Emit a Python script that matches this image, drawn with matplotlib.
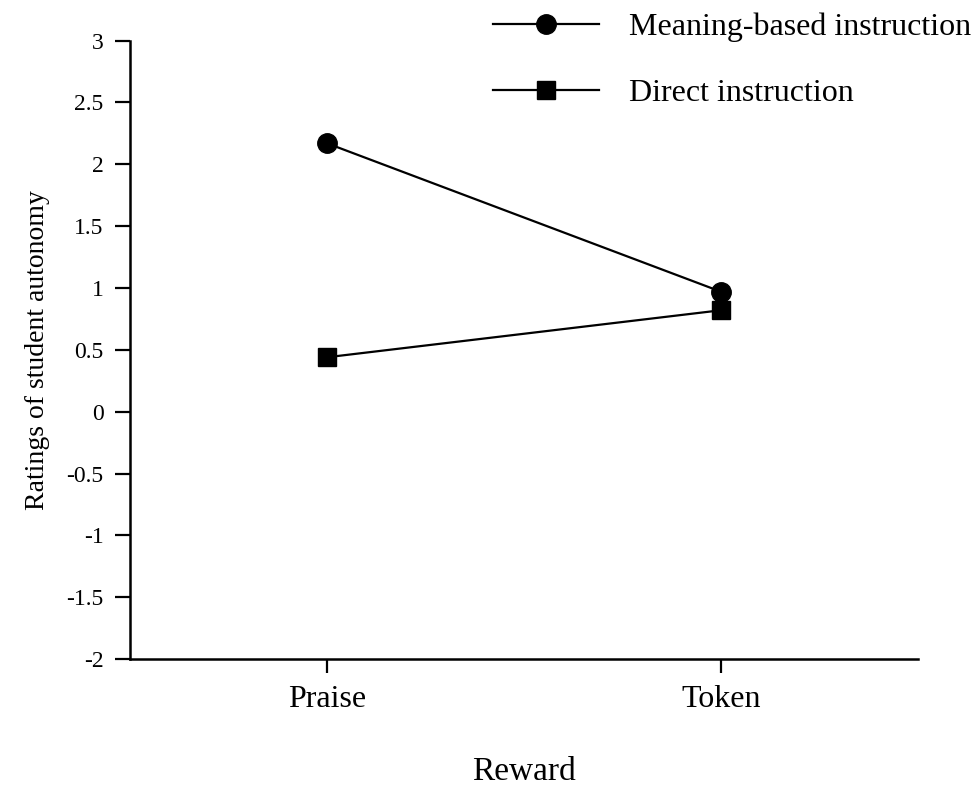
import matplotlib
matplotlib.use('Agg')
import matplotlib.pyplot as plt
from matplotlib.ticker import MultipleLocator, FormatStrFormatter

plt.rcParams['font.family'] = 'Liberation Serif'
plt.rcParams['axes.unicode_minus'] = False

recompensas = ['Praise', 'Token']
meaning_based = [2.17, 0.97]
direct = [0.44, 0.82]

fig = plt.figure(figsize=(9.8, 7.88), dpi=100)
ax = fig.add_axes([0.1327, 0.1637, 0.804, 0.7847])

x = list(range(len(recompensas)))
ax.plot(x, meaning_based, marker='o', color='black', linewidth=1.6, markersize=14,
        label='Meaning-based instruction')
ax.plot(x, direct, marker='s', color='black', linewidth=1.6, markersize=13,
        label='Direct instruction')

ax.set_xlim(-0.5, 1.5)
ax.set_ylim(-2, 3)
ax.set_xticks(x)
ax.set_xticklabels(recompensas, fontsize=23)
ax.yaxis.set_major_locator(MultipleLocator(0.5))
ax.yaxis.set_major_formatter(FormatStrFormatter('%g'))
ax.tick_params(axis='y', labelsize=17, length=11, width=1.6, pad=8, direction='out')
ax.tick_params(axis='x', length=10, width=1.6, pad=9, direction='out')

for lado in ['top', 'right']:
    ax.spines[lado].set_visible(False)
for lado in ['left', 'bottom']:
    ax.spines[lado].set_linewidth(1.8)

ax.set_xlabel('Reward', fontsize=24, labelpad=30)
ax.set_ylabel('Ratings of student autonomy', fontsize=20, labelpad=12)

fig.legend(loc='upper left', bbox_to_anchor=(0.5, 0.988), frameon=False,
           fontsize=23, handlelength=3.3, handletextpad=0.95, labelspacing=1.15,
           borderpad=0.1, borderaxespad=0)

plt.savefig('out.png')
